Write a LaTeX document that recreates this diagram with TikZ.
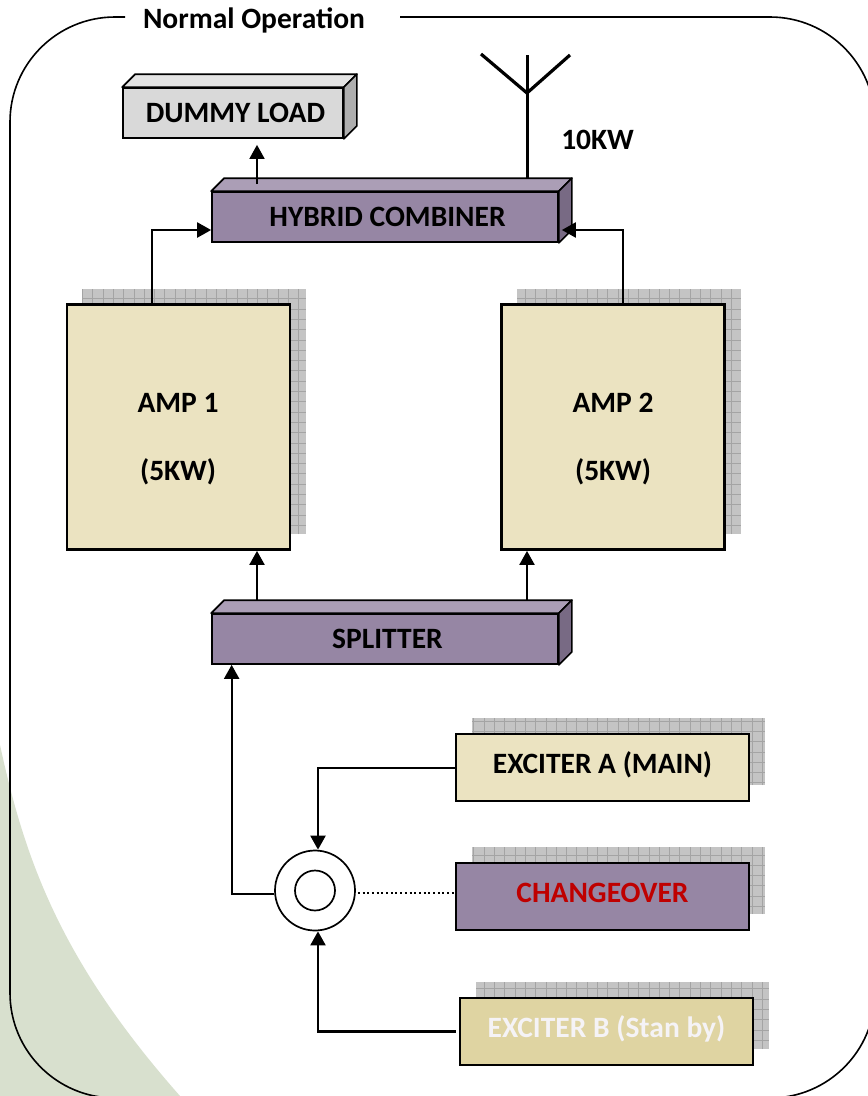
\documentclass[tikz,border=0pt]{standalone}
\usepackage{fontspec}
\setmainfont{Carlito}
\usetikzlibrary{arrows.meta,calc}
\definecolor{cream}{HTML}{EBE3C1}
\definecolor{sand}{HTML}{DFD4A2}
\definecolor{mauve}{HTML}{9686A4}
\definecolor{mauvetop}{HTML}{AB9EB6}
\definecolor{mauveside}{HTML}{786A84}
\definecolor{load}{HTML}{D9D9D9}
\definecolor{loadtop}{HTML}{E4E4E4}
\definecolor{loadside}{HTML}{AEAEAE}
\definecolor{sage}{HTML}{D8E0CE}
\definecolor{shade}{HTML}{C4C4C4}
\definecolor{shadeline}{HTML}{A4A4A4}
\newcommand{\shadowblock}[4]{
\fill[color=shade] (#1,#2) rectangle (#3,#4);
\draw[step=10.3pt,color=shadeline,line width=0.7pt] (#1,#4) grid (#3,#2);
}
\newcommand{\cuboid}[2]{
\filldraw[fill=#2top,line width=1.7pt,line join=round] (#1.north west) -- ++(13,-13) -- ($(#1.north east)+(13,-13)$) -- (#1.north east) -- cycle;
\filldraw[fill=#2side,line width=1.7pt,line join=round] (#1.north east) -- ++(13,-13) -- ($(#1.south east)+(13,-13)$) -- (#1.south east) -- cycle;
}
\newcommand{\nudged}[1]{\mbox{\kern5pt #1}}
\begin{document}
\begin{tikzpicture}[>={Triangle[length=14pt,width=15pt]},x=1pt,y=-1pt]
\tikzstyle{every node}=[font=\bfseries\fontsize{29.5}{34}\selectfont,align=center]
\tikzstyle{box}=[draw,line width=2.8pt,inner sep=0pt]
\tikzstyle{amp}=[box,fill=cream,minimum width=223,minimum height=245]
\tikzstyle{wide}=[box,fill=cream,minimum width=293,minimum height=67,text height=20pt,text depth=9pt]
\tikzstyle{flat}=[draw,line width=1.7pt,inner sep=0pt,fill=mauve,minimum width=346,minimum height=50,text height=19pt,text depth=0pt]
\tikzstyle{link}=[->,line width=2.2pt]
\useasboundingbox (0,0) rectangle (868,1096);
\fill[white] (0,0) rectangle (868,1096);
\fill[color=sage] (0,745) .. controls (25,860) and (60,960) .. (180,1096) -- (0,1096) -- cycle;
% frame
\draw[line width=1.6pt,rounded corners=105] (125,17) -- (10,17) -- (10,1098) -- (875,1098) -- (875,17) -- (400,17);
\node (title) at (254,20) {Normal Operation};
% shadows
\shadowblock{82}{289}{306}{534}
\shadowblock{517}{289}{741}{534}
\shadowblock{472}{718}{765}{785}
\shadowblock{472}{847}{765}{914}
\shadowblock{476}{982}{769}{1049}
% blocks
\node[flat,fill=load,minimum width=220] (dummy) at (233,113) {\nudged{DUMMY LOAD}};
\cuboid{dummy}{load}
\node[flat] (combiner) at (385,217) {\nudged{HYBRID COMBINER}};
\cuboid{combiner}{mauve}
\node[amp] (amp1) at (178.5,427) {};
\node (amp1a) at (178,403) {AMP 1};
\node (amp1b) at (178,472) {(5KW)};
\node[amp] (amp2) at (613,427) {};
\node (amp2a) at (613,403) {AMP 2};
\node (amp2b) at (613,472) {(5KW)};
\node[flat] (splitter) at (385,639) {\nudged{SPLITTER}};
\cuboid{splitter}{mauve}
\node[wide] (excitera) at (602.5,767.5) {EXCITER A (MAIN)};
\node[wide,fill=mauve,text=red!75!black] (changeover) at (602.5,896.5) {CHANGEOVER};
\node[wide,fill=sand,text=white!90!mauve] (exciterb) at (606.5,1031.5) {EXCITER B (Stan by)};
\node (power) at (597.5,140) {10KW};
% switch
\node[circle,draw,line width=1.7pt,fill=white,minimum size=80,inner sep=0pt] (switch) at (315,890.5) {};
\node[circle,draw,line width=1.7pt,minimum size=40,inner sep=0pt] (contact) at (315,890.5) {};
% antenna
\coordinate (mast) at (527,93);
\coordinate (tipl) at (481,54);
\coordinate (tipm) at (527.5,55);
\coordinate (tipr) at (570,55);
\coordinate (foot) at (527.5,179);
\draw[line width=3.2pt] (tipl) -- (mast) -- (tipr);
\draw[line width=3.6pt] (tipm) -- (foot);
% connectors
\draw[link,line width=1.7pt] ([xshift=-128pt,yshift=7pt]combiner.north) -- ([xshift=24pt,yshift=-6pt]dummy.south);
\draw[link] ([xshift=-26.5pt]amp1.north) |- ([yshift=-13pt]combiner.west);
\draw[link] ([xshift=10pt]amp2.north) |- ([xshift=3pt,yshift=-13pt]combiner.east);
\draw[link] ([xshift=-128pt,yshift=13pt]splitter.north) -- (amp1.south -| 257,0);
\draw[link] ([xshift=142pt,yshift=13pt]splitter.north) -- (amp2.south -| 527,0);
\draw[link] ([yshift=-3.5pt]switch.west) -| ([xshift=20.5pt]splitter.south west);
\draw[link] ([yshift=-0.5pt]excitera.west) -| ([xshift=3pt]switch.north);
\draw[link] ([xshift=-3pt]exciterb.west) -| ([xshift=3pt]switch.south);
\draw[line width=2pt,dash pattern=on 2pt off 2.7pt] ([xshift=2pt,yshift=-2.5pt]switch.east) -- ([yshift=3.5pt]changeover.west);
\end{tikzpicture}
\end{document}
